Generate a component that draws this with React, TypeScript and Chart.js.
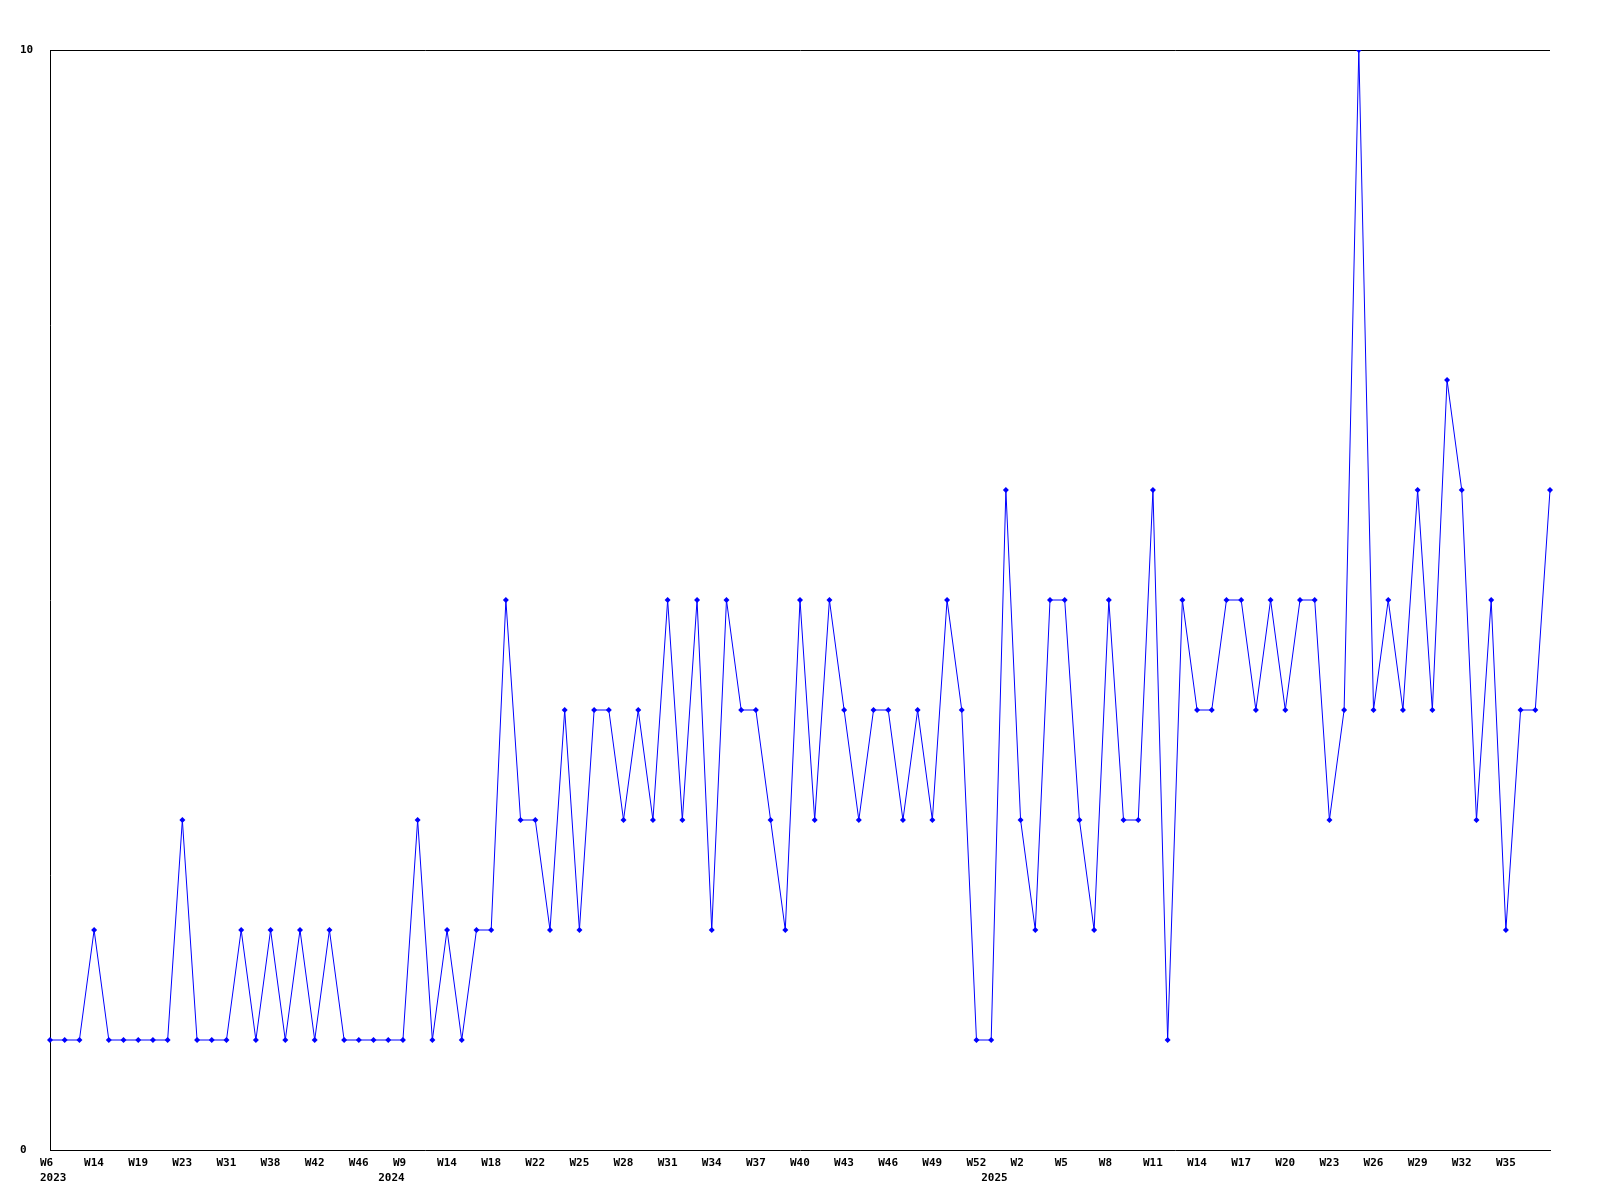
import React, { useEffect, useRef } from "react";
import { Chart, registerables } from "chart.js";

Chart.register(...registerables);

// Week label of each data point (2023 → 2025)
const weekLabels: string[] = [
  // 2023
  "W6", "W9", "W11", "W14", "W16", "W17", "W19", "W20", "W21", "W23",
  "W26", "W28", "W31", "W33", "W36", "W38", "W39", "W40", "W42", "W43",
  "W44", "W46", "W49",
  // 2024
  "W6", "W9", "W11", "W12", "W14", "W15", "W16", "W18", "W19", "W20",
  "W22", "W23", "W24", "W25", "W26", "W27", "W28", "W29", "W30", "W31",
  "W32", "W33", "W34", "W35", "W36", "W37", "W38", "W39", "W40", "W41",
  "W42", "W43", "W44", "W45", "W46", "W47", "W48", "W49", "W50", "W51",
  "W52",
  // 2025
  "W0", "W1", "W2", "W3", "W4", "W5", "W6", "W7", "W8", "W9",
  "W10", "W11", "W12", "W13", "W14", "W15", "W16", "W17", "W18", "W19",
  "W20", "W21", "W22", "W23", "W24", "W25", "W26", "W27", "W28", "W29",
  "W30", "W31", "W32", "W33", "W34", "W35", "W36", "W37", "W38",
];

// Index of the first point of each year, and the year names
const yearStartIndex: number[] = [0, 23, 64];
const yearNames: string[] = ["2023", "2024", "2025"];

// Weekly counts
const counts: number[] = [
  1, 1, 1, 2, 1, 1, 1, 1, 1, 3,
  1, 1, 1, 2, 1, 2, 1, 2, 1, 2,
  1, 1, 1, 1, 1, 3, 1, 2, 1, 2,
  2, 5, 3, 3, 2, 4, 2, 4, 4, 3,
  4, 3, 5, 3, 5, 2, 5, 4, 4, 3,
  2, 5, 3, 5, 4, 3, 4, 4, 3, 4,
  3, 5, 4, 1, 1, 6, 3, 2, 5, 5,
  3, 2, 5, 3, 3, 6, 1, 5, 4, 4,
  5, 5, 4, 5, 4, 5, 5, 3, 4, 10,
  4, 5, 4, 6, 4, 7, 6, 3, 5, 2,
  4, 4, 6,
];

const yMin = 0;
const yMax = 10;
const labelEvery = 3;

export default function App() {
  const ref = useRef<HTMLCanvasElement | null>(null);

  useEffect(() => {
    if (!ref.current) return;
    const font = {
      family: "'DejaVu Sans Mono', 'Liberation Mono', monospace",
      size: 11,
      weight: "bold" as const,
      lineHeight: "15px",
    };
    const chart = new Chart(ref.current, {
      type: "line",
      data: {
        labels: weekLabels,
        datasets: [
          {
            data: counts,
            borderColor: "#0000ff",
            backgroundColor: "#0000ff",
            borderWidth: 1,
            tension: 0,
            fill: false,
            pointStyle: "rectRot",
            pointRadius: 3,
            pointBorderWidth: 0,
            pointBackgroundColor: "#0000ff",
          },
        ],
      },
      options: {
        responsive: false,
        animation: false,
        events: [],
        layout: { padding: { left: 12, right: 42, top: 42, bottom: 0 } },
        plugins: {
          legend: { display: false },
          tooltip: { enabled: false },
          title: { display: false },
        },
        scales: {
          x: {
            type: "category",
            offset: false,
            grid: { display: false, drawTicks: false },
            border: { display: true, color: "#000000", width: 1 },
            afterFit: (scale: any) => {
              scale.height = 38;
            },
            ticks: {
              autoSkip: false,
              maxRotation: 0,
              minRotation: 0,
              align: "start",
              labelOffset: -10,
              padding: 5.5,
              color: "#000000",
              font,
              callback: (_v: any, index: number) => {
                const w = index % labelEvery === 0 && index < counts.length - 1 ? weekLabels[index] : "";
                const yi = yearStartIndex.indexOf(index);
                if (yi >= 0) return [w, yearNames[yi]];
                return w;
              },
            },
          },
          y: {
            min: yMin,
            max: yMax,
            grid: {
              display: true,
              drawTicks: false,
              lineWidth: 1,
              color: (ctx: any) => (ctx.tick && ctx.tick.value === yMax ? "#000000" : "rgba(0,0,0,0)"),
            },
            border: { display: true, color: "#000000", width: 1 },
            afterFit: (scale: any) => {
              scale.width = 30;
            },
            ticks: {
              stepSize: yMax - yMin,
              autoSkip: false,
              crossAlign: "far",
              color: "#000000",
              font,
            },
          },
        },
      },
    });
    return () => chart.destroy();
  }, []);

  return <canvas ref={ref} width={1584} height={1180} style={{ display: "block" }} />;
}
